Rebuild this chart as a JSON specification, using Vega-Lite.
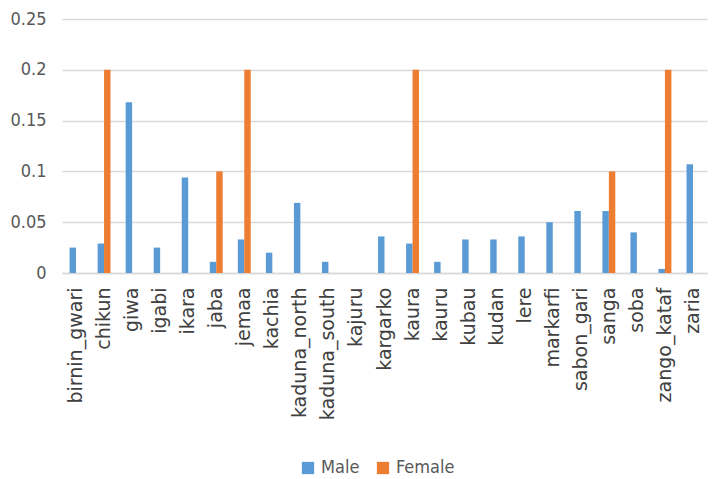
{
  "$schema": "https://vega.github.io/schema/vega-lite/v6.json",
  "width": 645,
  "height": 254,
  "autosize": "none",
  "padding": {"left": 62, "top": 19, "right": 10, "bottom": 206},
  "background": "white",
  "config": {
    "view": {"stroke": null},
    "font": "Open Sans"
  },
  "data": {
    "values": [
      {"district": "birnin_gwari", "sex": "Male", "value": 0.025},
      {"district": "birnin_gwari", "sex": "Female", "value": 0},
      {"district": "chikun", "sex": "Male", "value": 0.029},
      {"district": "chikun", "sex": "Female", "value": 0.2},
      {"district": "giwa", "sex": "Male", "value": 0.168},
      {"district": "giwa", "sex": "Female", "value": 0},
      {"district": "igabi", "sex": "Male", "value": 0.025},
      {"district": "igabi", "sex": "Female", "value": 0},
      {"district": "ikara", "sex": "Male", "value": 0.094},
      {"district": "ikara", "sex": "Female", "value": 0},
      {"district": "jaba", "sex": "Male", "value": 0.011},
      {"district": "jaba", "sex": "Female", "value": 0.1},
      {"district": "jemaa", "sex": "Male", "value": 0.033},
      {"district": "jemaa", "sex": "Female", "value": 0.2},
      {"district": "kachia", "sex": "Male", "value": 0.02},
      {"district": "kachia", "sex": "Female", "value": 0},
      {"district": "kaduna_north", "sex": "Male", "value": 0.069},
      {"district": "kaduna_north", "sex": "Female", "value": 0},
      {"district": "kaduna_south", "sex": "Male", "value": 0.011},
      {"district": "kaduna_south", "sex": "Female", "value": 0},
      {"district": "kajuru", "sex": "Male", "value": 0},
      {"district": "kajuru", "sex": "Female", "value": 0},
      {"district": "kargarko", "sex": "Male", "value": 0.036},
      {"district": "kargarko", "sex": "Female", "value": 0},
      {"district": "kaura", "sex": "Male", "value": 0.029},
      {"district": "kaura", "sex": "Female", "value": 0.2},
      {"district": "kauru", "sex": "Male", "value": 0.011},
      {"district": "kauru", "sex": "Female", "value": 0},
      {"district": "kubau", "sex": "Male", "value": 0.033},
      {"district": "kubau", "sex": "Female", "value": 0},
      {"district": "kudan", "sex": "Male", "value": 0.033},
      {"district": "kudan", "sex": "Female", "value": 0},
      {"district": "lere", "sex": "Male", "value": 0.036},
      {"district": "lere", "sex": "Female", "value": 0},
      {"district": "markarfi", "sex": "Male", "value": 0.05},
      {"district": "markarfi", "sex": "Female", "value": 0},
      {"district": "sabon_gari", "sex": "Male", "value": 0.061},
      {"district": "sabon_gari", "sex": "Female", "value": 0},
      {"district": "sanga", "sex": "Male", "value": 0.061},
      {"district": "sanga", "sex": "Female", "value": 0.1},
      {"district": "soba", "sex": "Male", "value": 0.04},
      {"district": "soba", "sex": "Female", "value": 0},
      {"district": "zango_kataf", "sex": "Male", "value": 0.004},
      {"district": "zango_kataf", "sex": "Female", "value": 0.2},
      {"district": "zaria", "sex": "Male", "value": 0.107},
      {"district": "zaria", "sex": "Female", "value": 0}
    ]
  },
  "mark": {"type": "bar"},
  "encoding": {
    "x": {
      "field": "district",
      "type": "nominal",
      "sort": null,
      "scale": {"paddingInner": 0.54, "paddingOuter": 0.27},
      "axis": {
        "title": null,
        "labelAngle": -90,
        "labelAlign": "right",
        "labelBaseline": "middle",
        "labelFont": "DejaVu Sans",
        "labelFontSize": 19,
        "labelColor": "#404040",
        "labelPadding": 14,
        "ticks": false,
        "domainColor": "#d9d9d9",
        "domainWidth": 1.5
      }
    },
    "xOffset": {"field": "sex", "type": "nominal", "sort": ["Male", "Female"]},
    "y": {
      "field": "value",
      "type": "quantitative",
      "scale": {"domain": [0, 0.25], "nice": false},
      "axis": {
        "title": null,
        "values": [0, 0.05, 0.1, 0.15, 0.2, 0.25],
        "format": "~g",
        "domain": false,
        "ticks": false,
        "labelFont": "DejaVu Sans Condensed, Open Sans, sans-serif",
        "labelFontSize": 18,
        "labelColor": "#595959",
        "labelPadding": 16,
        "gridColor": "#d9d9d9",
        "gridWidth": 1.5
      }
    },
    "color": {
      "field": "sex",
      "type": "nominal",
      "sort": ["Male", "Female"],
      "scale": {"domain": ["Male", "Female"], "range": ["#5B9BD5", "#ED7D31"]},
      "legend": {
        "title": null,
        "orient": "none",
        "direction": "horizontal",
        "legendX": 237,
        "legendY": 440,
        "symbolType": "square",
        "symbolSize": 150,
        "symbolStrokeWidth": 0,
        "labelFont": "DejaVu Sans Condensed, Open Sans, sans-serif",
        "labelFontSize": 18,
        "labelColor": "#595959",
        "labelOffset": 4,
        "columnPadding": 14
      }
    }
  }
}
